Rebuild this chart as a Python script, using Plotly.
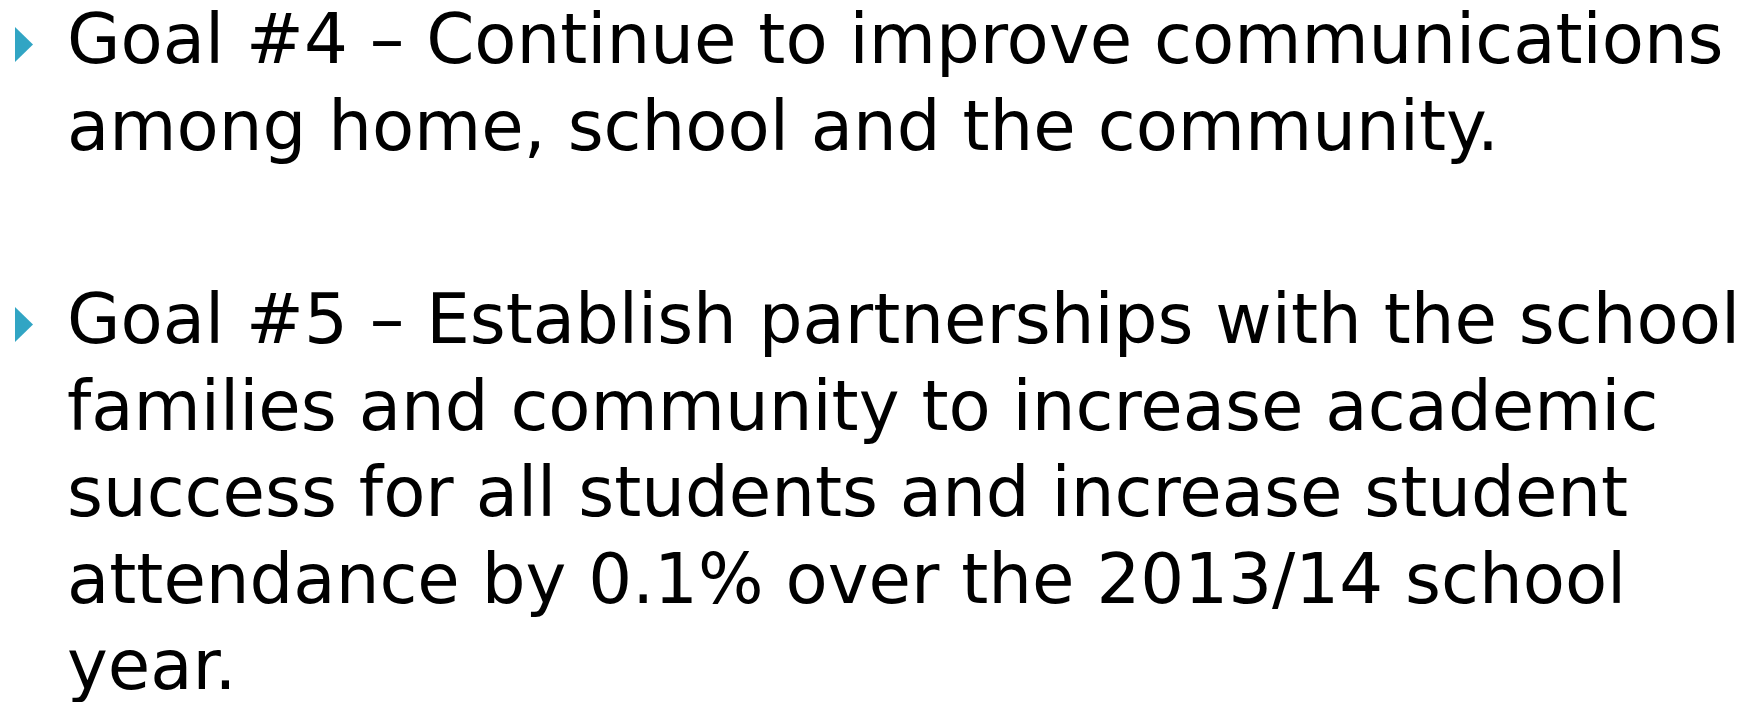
import plotly.graph_objects as go

# slide text, one entry per rendered line
goal4_lines = ["Goal #4 \u2013 Continue to improve communications",
               "among home, school and the community."]
goal5_lines = ["Goal #5 \u2013 Establish partnerships with the school",
               "families and community to increase academic",
               "success for all students and increase student",
               "attendance by 0.1% over the 2013/14 school",
               "year."]

W, H = 1762, 702
FS = 69
LINE_H = 86.5
TEXT_X = 65
BULLET_X = 15
goal_baselines = [63, 343]   # first-line baseline of each bullet
MID_OFF = 24                 # annotation middle sits this far above the baseline
blue = "#31A5C4"

fig = go.Figure()

annots = []
shapes = []
for base, lines in zip(goal_baselines, [goal4_lines, goal5_lines]):
    for i, ln in enumerate(lines):
        annots.append(dict(x=TEXT_X, y=base + i * LINE_H - MID_OFF, xref="x", yref="y",
                           text=ln, showarrow=False, xanchor="left", yanchor="middle",
                           font=dict(family="DejaVu Sans", size=FS, color="black")))
    # triangle bullet, tall and narrow
    x0, x1 = BULLET_X, BULLET_X + 18
    y0, y1 = base - 36, base - 1
    shapes.append(dict(type="path", xref="x", yref="y",
                       path=f"M{x0},{y0} L{x1},{(y0 + y1) / 2} L{x0},{y1} Z",
                       fillcolor=blue, line=dict(width=0)))

fig.update_layout(width=W, height=H, margin=dict(l=0, r=0, t=0, b=0),
                  paper_bgcolor="white", plot_bgcolor="white",
                  xaxis=dict(range=[0, W], visible=False, fixedrange=True),
                  yaxis=dict(range=[H, 0], visible=False, fixedrange=True),
                  annotations=annots, shapes=shapes, showlegend=False)

fig.write_html("out.html", config={"displayModeBar": False},
               post_script="document.body.style.margin='0';")
